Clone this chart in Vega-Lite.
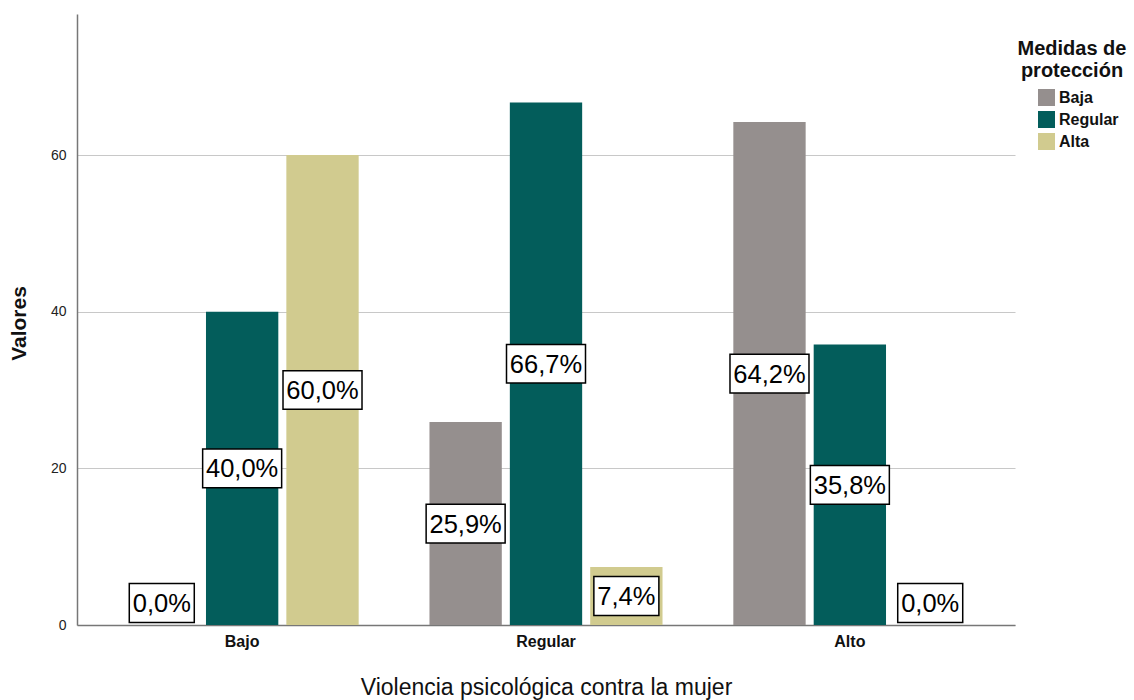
{
  "$schema": "https://vega.github.io/schema/vega-lite/v6.json",
  "width": 938,
  "height": 611,
  "autosize": {"type": "none"},
  "padding": {"left": 77, "top": 14, "right": 119, "bottom": 75},
  "background": "white",
  "data": {
    "values": [
      {"violencia": "Bajo", "medida": "Baja", "valor": 0.0},
      {"violencia": "Bajo", "medida": "Regular", "valor": 40.0},
      {"violencia": "Bajo", "medida": "Alta", "valor": 60.0},
      {"violencia": "Regular", "medida": "Baja", "valor": 25.9},
      {"violencia": "Regular", "medida": "Regular", "valor": 66.7},
      {"violencia": "Regular", "medida": "Alta", "valor": 7.4},
      {"violencia": "Alto", "medida": "Baja", "valor": 64.2},
      {"violencia": "Alto", "medida": "Regular", "valor": 35.8},
      {"violencia": "Alto", "medida": "Alta", "valor": 0.0}
    ]
  },
  "encoding": {
    "x": {
      "field": "violencia",
      "type": "nominal",
      "sort": ["Bajo", "Regular", "Alto"],
      "scale": {"paddingInner": 0.233, "paddingOuter": 0.16},
      "axis": {
        "title": "Violencia psicológica contra la mujer",
        "titleFont": "Liberation Sans",
        "titleFontSize": 23,
        "titleFontWeight": "normal",
        "titleColor": "#111",
        "titleBaseline": "middle",
        "titleY": 62,
        "labelAngle": 0,
        "labelFont": "Liberation Sans",
        "labelFontSize": 16,
        "labelFontWeight": "bold",
        "labelColor": "#111",
        "labelPadding": 8,
        "ticks": false,
        "domainColor": "#777",
        "domainWidth": 1.5,
        "grid": false
      }
    },
    "xOffset": {
      "field": "medida",
      "type": "nominal",
      "sort": ["Baja", "Regular", "Alta"],
      "scale": {"paddingInner": 0.1, "paddingOuter": 0}
    }
  },
  "layer": [
    {
      "mark": {"type": "bar", "strokeWidth": 0},
      "encoding": {
        "y": {
          "field": "valor",
          "type": "quantitative",
          "scale": {"domain": [0, 78], "nice": false},
          "axis": {
            "title": "Valores",
            "titleFont": "Liberation Sans",
            "titleFontSize": 21,
            "titleFontWeight": "bold",
            "titleColor": "#111",
            "titleX": -58,
            "titleY": 309,
            "titleBaseline": "middle",
            "titleAngle": -90,
            "values": [0, 20, 40, 60],
            "labelFont": "Liberation Sans",
            "labelFontSize": 14,
            "labelColor": "#222",
            "labelPadding": 11,
            "ticks": false,
            "domainColor": "#777",
            "domainWidth": 1.5,
            "grid": true,
            "gridColor": "#c8c8c8",
            "gridWidth": 1.2
          }
        },
        "color": {
          "field": "medida",
          "type": "nominal",
          "sort": ["Baja", "Regular", "Alta"],
          "scale": {
            "domain": ["Baja", "Regular", "Alta"],
            "range": ["#958f8e", "#035d5b", "#d1cb8f"]
          },
          "legend": {
            "title": ["Medidas de", "protección"],
            "orient": "none",
            "legendX": 941,
            "legendY": 25,
            "padding": 0,
            "titleFont": "Liberation Sans",
            "titleFontSize": 20,
            "titleFontWeight": "bold",
            "titleColor": "#111",
            "titleAlign": "center",
            "titleAnchor": "middle",
            "titleLineHeight": 22,
            "titlePadding": 8,
            "symbolType": "square",
            "symbolSize": 289,
            "symbolStrokeWidth": 0,
            "symbolOpacity": 1,
            "symbolOffset": 13,
            "labelFont": "Liberation Sans",
            "labelFontSize": 16,
            "labelFontWeight": "bold",
            "labelColor": "#111",
            "labelOffset": 4,
            "rowPadding": 5
          }
        }
      }
    },
    {
      "transform": [
        {"calculate": "max(datum.valor / 2, 2.8)", "as": "pos"}
      ],
      "mark": {"type": "point", "filled": true, "fill": "white", "stroke": "black", "strokeWidth": 1.5, "opacity": 1, "fillOpacity": 1, "strokeOpacity": 1},
      "encoding": {
        "y": {"field": "pos", "type": "quantitative"},
        "shape": {
          "condition": {"test": "datum.valor < 10", "value": "M-1,-0.6L1,-0.6L1,0.6L-1,0.6Z"},
          "value": "M-1,-0.49L1,-0.49L1,0.49L-1,0.49Z"
        },
        "size": {
          "condition": {"test": "datum.valor < 10", "value": 4225},
          "value": 6241
        }
      }
    },
    {
      "transform": [
        {"calculate": "max(datum.valor / 2, 2.8)", "as": "pos"}
      ],
      "mark": {"type": "text", "font": "Liberation Sans", "fontSize": 25.5, "color": "#000", "baseline": "middle", "align": "center", "dy": 1},
      "encoding": {
        "y": {"field": "pos", "type": "quantitative"},
        "text": {"field": "valor", "type": "quantitative", "format": "$.1f"}
      }
    }
  ],
  "config": {
    "view": {"stroke": null},
    "locale": {
      "number": {
        "decimal": ",",
        "thousands": ".",
        "grouping": [3],
        "currency": ["", "%"]
      }
    }
  }
}
